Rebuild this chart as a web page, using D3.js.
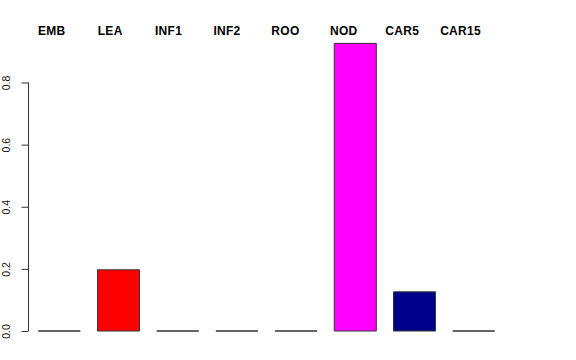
<!DOCTYPE html>
<html>
<head>
<meta charset="utf-8">
<script src="https://cdn.jsdelivr.net/npm/d3@7"></script>
<style>
  body { margin: 0; background: #fff; }
  svg { display: block; font-family: "Liberation Sans", Arial, sans-serif; }
</style>
</head>
<body>
<div id="chart"></div>
<script>
// barplot of proportions per tissue

const categories = ["EMB", "LEA", "INF1", "INF2", "ROO", "NOD", "CAR5", "CAR15"];
const values = [0, 0.197, 0, 0, 0, 0.926, 0.126, 0];
const colors = ["#bebebe", "#ff0000", "#00cd00", "#0000ff", "#00ffff", "#ff00ff", "#00008b", "#ffa500"];
const yTicks = [0, 0.2, 0.4, 0.6, 0.8];

const width = 576;
const height = 360;

const svg = d3.select("#chart").append("svg")
  .attr("width", width)
  .attr("height", height);

const xScale = d3.scaleBand()
  .domain(categories)
  .range([38.3, 494.7])
  .paddingInner(0.29)
  .paddingOuter(0);

// labels along the top sit on their own evenly spaced positions
const labelScale = d3.scalePoint()
  .domain(categories)
  .range([51.8, 460.6]);

const yScale = d3.scaleLinear()
  .domain([0, 0.8])
  .range([331, 82.5]);

// bars as paths so that zero values still show as a flat line
const barPath = (d, i) => {
  const x0 = xScale(d);
  const x1 = x0 + xScale.bandwidth();
  const y0 = yScale(0);
  const y1 = yScale(values[i]);
  return `M${x0},${y0}V${y1}H${x1}V${y0}Z`;
};

svg.selectAll("path.bar")
  .data(categories)
  .enter()
  .append("path")
  .attr("class", "bar")
  .attr("d", barPath)
  .attr("fill", (d, i) => colors[i])
  .attr("stroke", "#333")
  .attr("stroke-width", 1);

// y axis, R style: line only spans the ticks
const yAxis = svg.append("g")
  .attr("transform", "translate(28.5,0)")
  .call(d3.axisLeft(yScale).tickValues(yTicks).tickSize(7).tickSizeOuter(0).tickFormat(d3.format(".1f")));

yAxis.select(".domain")
  .attr("d", `M0,${yScale(0)}V${yScale(0.8)}`)
  .attr("stroke", "#333");
yAxis.selectAll(".tick line").attr("stroke", "#333");
yAxis.selectAll(".tick text")
  .attr("x", null)
  .attr("dy", null)
  .attr("transform", "translate(-18.5,0) rotate(-90)")
  .attr("text-anchor", "middle")
  .attr("font-size", 10.5)
  .attr("font-family", "Liberation Sans, Arial, sans-serif")
  .attr("fill", "#111");

// category labels on top
svg.selectAll("text.cat")
  .data(categories)
  .enter()
  .append("text")
  .attr("class", "cat")
  .attr("x", (d) => labelScale(d))
  .attr("y", 34.5)
  .attr("text-anchor", "middle")
  .attr("font-size", 12)
  .attr("font-weight", "bold")
  .attr("letter-spacing", 0.3)
  .text((d) => d);
</script>
</body>
</html>
